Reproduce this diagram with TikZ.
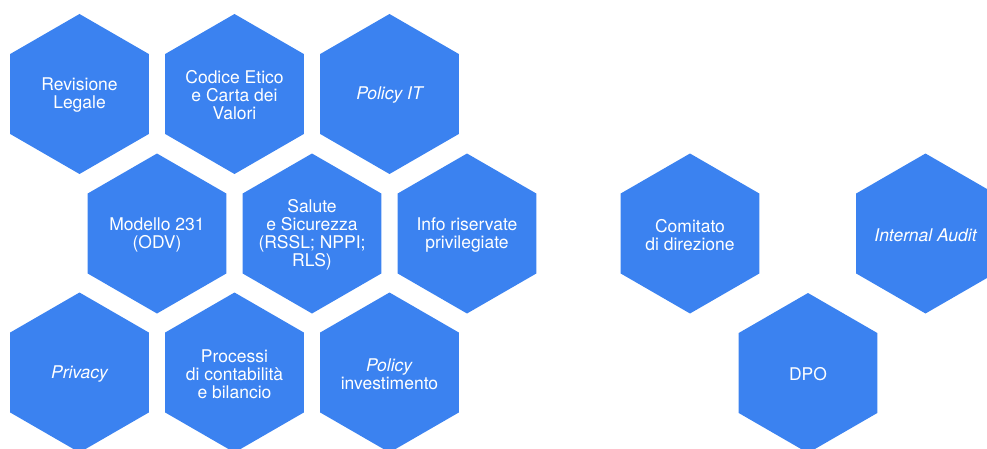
\documentclass[tikz,border=0pt]{standalone}
\usepackage{fontspec}
\setmainfont{TeX Gyre Heros}
\usetikzlibrary{shapes.geometric}
\definecolor{hexblue}{RGB}{59,130,240}

\begin{document}
\begin{tikzpicture}[
  x=1pt, y=1pt,
  every node/.style={align=center, text=white, font=\fontsize{17.5}{18}\selectfont},
  cell/.style={regular polygon, regular polygon sides=6, shape border rotate=30, minimum size=160pt, inner sep=0pt, fill=hexblue},
  every label/.style={yshift=-1.5pt}
]
\useasboundingbox (0,0) rectangle (987,448);

% --- FIRST ROW ---
\node[cell, label=center:{Revisione\\Legale}] (revisione) at (79.5,354) {};
\node[cell, label=center:{Codice Etico\\e Carta dei\\Valori}] (codice) at (234.5,354) {};
\node[cell, label=center:{\itshape Policy IT}] (policyit) at (389.5,354) {};

% --- SECOND ROW (offset) ---
\node[cell, label=center:{Modello 231\\(ODV)}] (modello) at (157,214.5) {};
\node[cell, label=center:{Salute\\e Sicurezza\\(RSSL; NPPI;\\RLS)}] (salute) at (312,214.5) {};
\node[cell, label=center:{Info riservate\\privilegiate}] (info) at (467,214.5) {};

% --- THIRD ROW ---
\node[cell, label=center:{\itshape Privacy}] (privacy) at (79.5,75.5) {};
\node[cell, label=center:{Processi\\di contabilità\\e bilancio}] (processi) at (234.5,75.5) {};
\node[cell, label=center:{\textit{Policy}\\investimento}] (investimento) at (389.5,75.5) {};

% --- RIGHT GROUP ---
\node[cell, label=center:{Comitato\\di direzione}] (comitato) at (690,214.5) {};
\node[cell, label=center:{\itshape Internal Audit}] (audit) at (925.5,214.5) {};
\node[cell, label=center:{DPO}] (dpo) at (808,75) {};

\end{tikzpicture}
\end{document}
